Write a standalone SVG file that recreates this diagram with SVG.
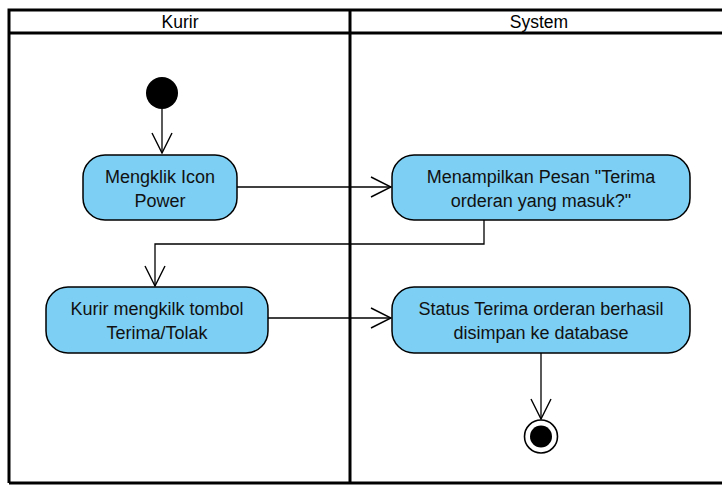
<svg xmlns="http://www.w3.org/2000/svg" width="722" height="485" viewBox="0 0 722 485">
  <style>
    .lane { fill: none; stroke: #000; stroke-width: 3; }
    .head { font-family: "Liberation Sans", Arial, sans-serif; font-size: 17.5px; fill: #000; text-anchor: middle; }
    .act { fill: #7dcff3; stroke: #000; stroke-width: 1.5; }
    .lbl { font-family: "Liberation Sans", Arial, sans-serif; font-size: 18px; fill: #111; text-anchor: middle; }
    .edge { fill: none; stroke: #000; stroke-width: 1.3; }
  </style>
  <defs>
    <marker id="open" viewBox="0 0 22 22" refX="21" refY="11" markerWidth="22" markerHeight="22" markerUnits="userSpaceOnUse" orient="auto">
      <path d="M1,1 L21,11 L1,21" fill="none" stroke="#000" stroke-width="1.4"/>
    </marker>
  </defs>
  <rect width="722" height="485" fill="#fff"/>

  <!-- swimlanes -->
  <g id="lanes">
    <path class="lane" d="M9,483 V10 H724 M9,33 H724 M350,10 V483 M9,483 H724"/>
    <text class="head" x="180" y="28">Kurir</text>
    <text class="head" x="539" y="28">System</text>
  </g>

  <g id="connectors">
    <path class="edge" d="M162,109 V153" marker-end="url(#open)"/>
    <path class="edge" d="M237,187 H391" marker-end="url(#open)"/>
    <path class="edge" d="M484,220 V244 H155 V286" marker-end="url(#open)"/>
    <path class="edge" d="M268,318 H391" marker-end="url(#open)"/>
    <path class="edge" d="M541,353 V419" marker-end="url(#open)"/>
  </g>

  <g id="start">
    <circle cx="162" cy="93" r="16" fill="#000"/>
  </g>

  <g id="mengklik-icon">
    <rect class="act" x="83" y="155" width="154" height="65" rx="22"/>
    <text class="lbl" x="160" y="183">Mengklik Icon</text>
    <text class="lbl" x="160" y="207">Power</text>
  </g>

  <g id="menampilkan-pesan">
    <rect class="act" x="392" y="155" width="298" height="65" rx="22"/>
    <text class="lbl" x="541" y="183">Menampilkan Pesan "Terima</text>
    <text class="lbl" x="541" y="207">orderan yang masuk?"</text>
  </g>

  <g id="kurir-mengklik">
    <rect class="act" x="46" y="287" width="222" height="66" rx="22"/>
    <text class="lbl" x="157" y="315">Kurir mengkilk tombol</text>
    <text class="lbl" x="157" y="339">Terima/Tolak</text>
  </g>

  <g id="status-terima">
    <rect class="act" x="392" y="287" width="298" height="66" rx="22"/>
    <text class="lbl" x="541" y="315">Status Terima orderan berhasil</text>
    <text class="lbl" x="541" y="339">disimpan ke database</text>
  </g>

  <g id="end">
    <circle cx="541" cy="436.5" r="16.5" fill="#fff" stroke="#000" stroke-width="1.6"/>
    <circle cx="541" cy="436.5" r="11" fill="#000"/>
  </g>
</svg>
